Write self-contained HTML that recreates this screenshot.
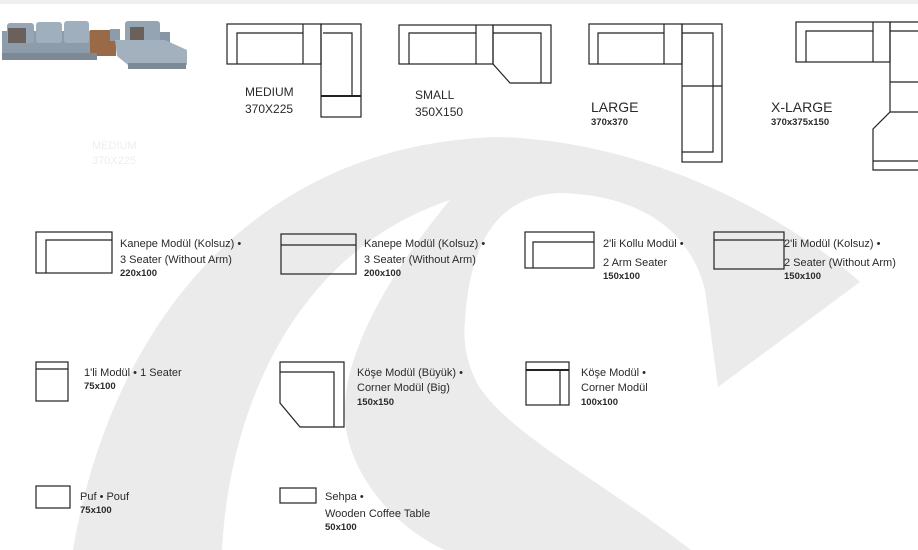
<!DOCTYPE html>
<html><head><meta charset="utf-8"><style>
html,body{margin:0;padding:0;background:#fff}
svg{display:block}
text{font-family:"Liberation Sans",sans-serif;fill:#2a2a2a}
.l{font-size:11px}
.b{font-size:9.5px;font-weight:bold}
.s{fill:none;stroke:#222;stroke-width:1.2}
</style></head><body>
<svg width="918" height="550" viewBox="0 0 918 550" xmlns="http://www.w3.org/2000/svg">
<rect x="0" y="0" width="918" height="4" fill="#eeeeee"/>
<!-- background logo -->
<path d="M73,550 C110,330 250,145 497,137 C640,140 780,210 860,282 L718,387 L760,550 Z" fill="#ebebeb"/>
<path d="M465,320 C470,240 500,195 560,193 C640,195 690,230 705,290 L718,387 L770,550 L691,550 C600,480 510,435 478,385 C466,362 463,342 465,320 Z" fill="#fff"/>
<path d="M222,550 C230,400 300,250 450,200 C400,260 340,350 345,420 C350,480 400,530 445,550 Z" fill="#fff"/>
<text x="92" y="149" class="l" style="fill:#eee">MEDIUM</text>
<text x="92" y="164" class="l" style="fill:#eee">370X225</text>

<!-- sofa photo -->
<g>
<rect x="2" y="31" width="95" height="22" fill="#8d9cab"/>
<rect x="7" y="23" width="27" height="20" rx="3" fill="#97a6b4"/>
<rect x="8" y="28" width="18" height="15" fill="#6a605c"/>
<rect x="36" y="22" width="26" height="21" rx="3" fill="#a0afbd"/>
<rect x="64" y="21" width="25" height="22" rx="3" fill="#a0afbd"/>
<rect x="90" y="30" width="26" height="26" fill="#9a6a46"/>
<rect x="110" y="29" width="10" height="12" fill="#8d9cab"/>
<rect x="125" y="21" width="35" height="22" rx="3" fill="#95a4b2"/>
<rect x="130" y="27" width="14" height="13" fill="#6a605c"/>
<rect x="160" y="32" width="10" height="15" fill="#8796a5"/>
<path d="M115,40 L165,40 L187,50 L187,65 L128,65 L117,56 Z" fill="#a3b1be"/>
<rect x="128" y="63" width="58" height="6" fill="#7d8a96"/>
<rect x="2" y="53" width="95" height="7" fill="#7d8a96"/>
</g>

<!-- MEDIUM -->
<g class="s">
<rect x="227" y="24" width="94" height="40"/>
<path d="M237,64 V33 H303"/>
<line x1="303" y1="24" x2="303" y2="64"/>
<rect x="321" y="24" width="40" height="93"/>
<path d="M323,33 H352 V96"/>
<line x1="321" y1="96" x2="361" y2="96" stroke-width="2"/>
</g>
<text x="245" y="96" style="font-size:12px">MEDIUM</text>
<text x="245" y="113" style="font-size:12px">370X225</text>

<!-- SMALL -->
<g class="s">
<rect x="399" y="25" width="94" height="39"/>
<path d="M409,64 V33 H476"/>
<line x1="476" y1="25" x2="476" y2="64"/>
<path d="M493,25 H551 V83 H510 L493,64 Z"/>
<path d="M493,33 H541 V83"/>
</g>
<text x="415" y="99" style="font-size:12px">SMALL</text>
<text x="415" y="116" style="font-size:12px">350X150</text>

<!-- LARGE -->
<g class="s">
<rect x="589" y="24" width="93" height="40"/>
<path d="M598,64 V33 H664"/>
<line x1="664" y1="24" x2="664" y2="64"/>
<rect x="682" y="24" width="40" height="138"/>
<path d="M682,33 H713 V152 H682"/>
<line x1="682" y1="86" x2="722" y2="86"/>
</g>
<text x="591" y="112" style="font-size:14px">LARGE</text>
<text x="591" y="125" class="b">370x370</text>

<!-- X-LARGE -->
<g class="s">
<rect x="796" y="22" width="94" height="40"/>
<path d="M806,62 V31 H873"/>
<line x1="873" y1="22" x2="873" y2="62"/>
<path d="M890,22 H930 M890,22 V112 L873,129 V170 H930"/>
<path d="M890,31 H930"/>
<line x1="890" y1="82" x2="930" y2="82"/>
<line x1="890" y1="112" x2="930" y2="112"/>
<line x1="873" y1="161" x2="930" y2="161"/>
</g>
<text x="771" y="112" style="font-size:14px">X-LARGE</text>
<text x="771" y="125" class="b">370x375x150</text>

<!-- row 2 -->
<g class="s">
<rect x="36" y="232" width="76" height="41"/>
<path d="M46,273 V240 H112"/>
<rect x="281" y="234" width="75" height="40"/>
<line x1="281" y1="245" x2="356" y2="245"/>
<rect x="525" y="232" width="69" height="36"/>
<path d="M533,268 V242 H594"/>
<rect x="714" y="232" width="70" height="37"/>
<line x1="714" y1="240" x2="784" y2="240"/>
</g>
<text x="120" y="247" class="l">Kanepe Modül (Kolsuz) •</text>
<text x="120" y="263" class="l">3 Seater (Without Arm)</text>
<text x="120" y="276" class="b">220x100</text>
<text x="364" y="247" class="l">Kanepe Modül (Kolsuz) •</text>
<text x="364" y="263" class="l">3 Seater (Without Arm)</text>
<text x="364" y="276" class="b">200x100</text>
<text x="603" y="247" class="l">2'li Kollu Modül •</text>
<text x="603" y="266" class="l">2 Arm Seater</text>
<text x="603" y="279" class="b">150x100</text>
<text x="784" y="247" class="l">2'li Modül (Kolsuz) •</text>
<text x="784" y="266" class="l">2 Seater (Without Arm)</text>
<text x="784" y="279" class="b">150x100</text>

<!-- row 3 -->
<g class="s">
<rect x="36" y="362" width="32" height="39"/>
<line x1="36" y1="369" x2="68" y2="369"/>
<path d="M280,362 H344 V427 H300 L280,403 Z"/>
<path d="M280,372 H334 V427"/>
<rect x="526" y="362" width="43" height="43"/>
<line x1="526" y1="370" x2="569" y2="370" stroke-width="2"/>
<line x1="560" y1="370" x2="560" y2="405"/>
</g>
<text x="84" y="376" class="l">1'li Modül • 1 Seater</text>
<text x="84" y="389" class="b">75x100</text>
<text x="357" y="376" class="l">Köşe Modül (Büyük) •</text>
<text x="357" y="391" class="l">Corner Modül (Big)</text>
<text x="357" y="405" class="b">150x150</text>
<text x="581" y="376" class="l">Köşe Modül  •</text>
<text x="581" y="391" class="l">Corner Modül</text>
<text x="581" y="405" class="b">100x100</text>

<!-- row 4 -->
<g class="s">
<rect x="36" y="486" width="34" height="22"/>
<rect x="280" y="488" width="36" height="15"/>
</g>
<text x="80" y="500" class="l">Puf • Pouf</text>
<text x="80" y="513" class="b">75x100</text>
<text x="325" y="500" class="l">Sehpa •</text>
<text x="325" y="517" class="l">Wooden Coffee Table</text>
<text x="325" y="530" class="b">50x100</text>
</svg>
</body></html>
